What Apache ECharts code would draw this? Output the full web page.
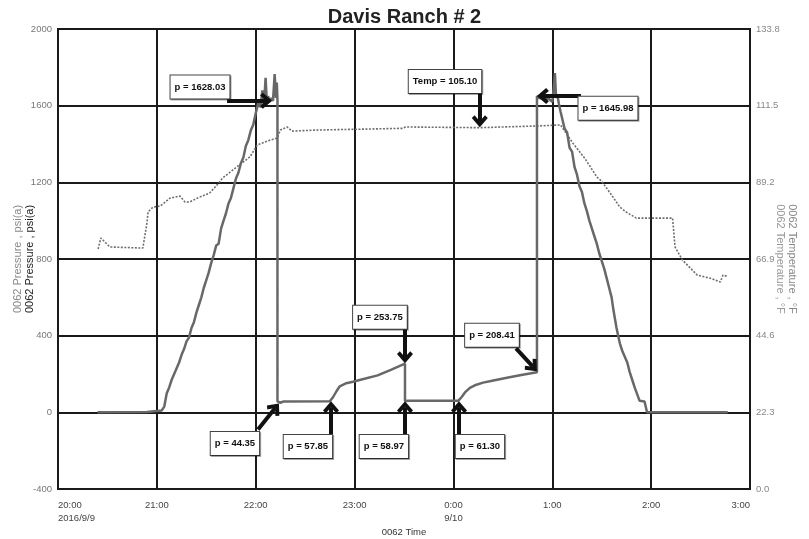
<!DOCTYPE html>
<html><head><meta charset="utf-8">
<style>html,body{margin:0;padding:0;background:#fff}#c{width:809px;height:539px}</style>
<script src="https://cdn.jsdelivr.net/npm/echarts@6.0.0/dist/echarts.min.js"></script>
</head><body><div id="c"></div>
<script>
const chartTitle = "Davis Ranch # 2";
const xAxisTitle = "0062 Time";
const leftAxisTitle = "0062 Pressure , psi(a)";
const rightAxisTitle = "0062 Temperature , °F";
const xTickLabels = ["20:00\n2016/9/9","21:00","22:00","23:00","0:00\n9/10","1:00","2:00","3:00"];
const pressureTickLabels = ["-400","0","400","800","1200","1600","2000"];
const tempTickLabels = ["0.0","22.3","44.6","66.9","89.2","111.5","133.8"];

const pressureTimes = ["20:24","20:54","20:55","21:03","21:04:30","21:06","21:07:30","21:09","21:10:30","21:12","21:13:30","21:15","21:16:30","21:18","21:19:30","21:21","21:22:30","21:24","21:25:30","21:27","21:28:30","21:30","21:31:30","21:33","21:34:30","21:36","21:37:30","21:39","21:40:30","21:42","21:43:30","21:45","21:46:30","21:48","21:49:30","21:51","21:52:30","21:54","21:55:30","21:57","21:58:30","22:00",
  "22:01","22:02","22:03","22:04","22:05","22:06","22:06:48","22:07:30","22:08:30","22:09:30","22:10:30","22:11:30","22:12:18","22:12:48","22:13:12","22:13:12",
  "22:15","22:17","22:45","22:47","22:49","22:51","22:55","22:59","23:06","23:14","23:22","23:30:36","23:30:36",
  "23:33","0:03","0:05","0:07","0:10","0:13","0:18","0:22","0:28","0:34","0:42","0:50:42","0:50:42",
  "0:52","0:58","1:00","1:01","1:01:36","1:02:18",
  "1:03","1:04","1:05","1:06","1:07:30","1:09","1:10:30","1:12","1:13:30","1:15","1:16:30","1:18","1:19:30","1:21","1:22:30","1:24","1:25:30","1:27","1:28:30","1:30","1:31:30","1:33","1:34:30","1:36","1:37","1:38","1:39","1:40","1:41","1:42:30","1:44","1:45:30","1:47","1:48:30","1:50","1:51:30","1:53","1:56","1:57:30","2:46:30"];
const pressureValues = [0,2,10,10,30,100,130,170,200,230,260,300,330,370,390,440,470,520,560,600,650,690,730,780,820,870,880,960,1000,1040,1090,1120,1170,1220,1250,1300,1330,1390,1420,1470,1500,1560,
  1570,1630,1590,1680,1600,1745,1610,1650,1620,1640,1625,1765,1640,1720,1630,57,
  50,57,58,80,110,136,152,160,175,193,222,254,59,
  61,61,80,104,128,141,155,162,173,183,196,209,1650,
  1640,1635,1620,1700,1770,1640,
  1660,1610,1570,1560,1480,1460,1380,1360,1280,1240,1180,1150,1090,1050,1000,960,920,880,830,790,750,700,650,600,540,490,440,400,360,320,290,260,210,170,130,95,60,57,0,0];

const tempTimes = ["20:24:20","20:26","20:31:30","20:50","20:51:30","20:54","20:54:40","20:57:40","21:02","21:08","21:14","21:17","21:20","21:24:30","21:32","21:35","21:38","21:40","21:48","21:56:30","22:01","22:07","22:13","22:15","22:19","22:22","22:37","22:57","23:29","23:31","0:16","0:51","1:05","1:12:30","1:20","1:27","1:30","1:36","1:41","1:45","1:51","2:13","2:14:30","2:19","2:28","2:36","2:42","2:43:36","2:46"];
const tempValues = [69.8,73.0,70.4,70.1,70.1,77.4,80.6,82.0,82.3,84.6,85.2,83.5,83.5,84.6,86.1,87.6,89.3,90.5,93.5,96.6,100.1,101.2,102.1,104.4,105.3,104.1,104.4,104.6,104.9,105.3,105.1,105.6,105.9,100.6,96.0,90.8,89.5,85.5,82.0,80.5,78.8,78.8,70.4,66.6,62.2,61.3,60.2,62.2,61.9];

// annotation callouts: text, box centre (time, psi), arrow tail and head (time, psi)
const calloutTexts = ["p = 1628.03","Temp = 105.10","p = 1645.98","p = 253.75","p = 208.41","p = 44.35","p = 57.85","p = 58.97","p = 61.30"];
const calloutBoxTimes = ["21:26:12","23:54:54","1:33:48","23:15:24","0:23:24","21:47:24","22:31:42","23:17:48","0:16:06"];
const calloutBoxPsi = [1697,1726,1587,496,402,-162,-178,-178,-178];
const arrowTailTimes = ["21:42:36","0:16","1:17:24","23:30:36","0:38","22:01:24","22:45:42","23:30:36","0:03:24"];
const arrowTailPsi = [1626,1703,1650,433,334,-89,-115,-115,-115];
const arrowHeadTimes = ["22:06:18","0:16","0:54:18","23:30:36","0:48:12","22:11:48","22:45:42","23:30:36","0:03:24"];
const arrowHeadPsi = [1626,1519,1650,287,238,22,26,26,26];

function toMin(s){
  const parts = s.split(':').map(Number);
  let h = parts[0]; const m = parts[1]; const sec = parts[2] || 0;
  if (h < 12) h += 24;
  return (h - 20) * 60 + m + sec / 60;
}

const pressureData = pressureTimes.map((t,i)=>[toMin(t), pressureValues[i]]);
const tempData = tempTimes.map((t,i)=>[toMin(t), tempValues[i]]);

const FONT = "'Liberation Sans',Arial,sans-serif";

const markPoints = calloutTexts.map((txt,i)=>({
  coord:[toMin(calloutBoxTimes[i]), calloutBoxPsi[i]],
  symbol:'rect', symbolSize:1, itemStyle:{color:'rgba(0,0,0,0)'},
  label:{show:true, position:'inside', formatter:txt, color:'#111', fontFamily:FONT, fontWeight:'bold', fontSize:9.5,
    backgroundColor:'#fff', borderColor:'#444', borderWidth:1, padding:[7,4,6,4],
    shadowColor:'rgba(0,0,0,0.35)', shadowOffsetX:1, shadowOffsetY:1, shadowBlur:0}
}));
const chevron = 'path://M10,0 L20,10 L16.5,13 L10,6.5 L3.5,13 L0,10 Z';
const markLines = calloutTexts.map((txt,i)=>[
  {coord:[toMin(arrowTailTimes[i]), arrowTailPsi[i]], symbol:'none'},
  {coord:[toMin(arrowHeadTimes[i]), arrowHeadPsi[i]], symbol:chevron, symbolSize:[16,12]}
]);

const chart = echarts.init(document.getElementById('c'), null, {renderer:'canvas'});
chart.setOption({
  animation:false,
  backgroundColor:'#fff',
  title:{text:chartTitle, left:'center', top:2, textStyle:{fontFamily:FONT, fontWeight:'bold', fontSize:20, color:'#222'}},
  grid:{left:58, right:59, top:29, bottom:50, show:true, borderColor:'#1a1a1a', borderWidth:2, outerBoundsMode:'none'},
  xAxis:{
    type:'value', min:0, max:420, interval:60,
    name:xAxisTitle, nameLocation:'middle', nameGap:38, nameMoveOverlap:false,
    nameTextStyle:{fontFamily:FONT, fontSize:9.5, color:'#333'},
    axisLine:{show:true, lineStyle:{color:'#1a1a1a', width:2}},
    axisTick:{show:false},
    splitLine:{show:true, lineStyle:{color:'#1a1a1a', width:2}},
    axisLabel:{fontFamily:FONT, fontSize:9.5, color:'#444', margin:10, lineHeight:13,
      alignMinLabel:'left', alignMaxLabel:'right',
      formatter:(v)=>xTickLabels[Math.round(v/60)]}
  },
  yAxis:[{
    type:'value', min:-400, max:2000, interval:400, position:'left',
    name:'{a|'+leftAxisTitle+'}\n{b|'+leftAxisTitle+'}', nameLocation:'middle', nameRotate:90, nameGap:22, nameMoveOverlap:false,
    nameTextStyle:{fontFamily:FONT, fontSize:11, rich:{a:{color:'#888', fontFamily:FONT, fontSize:11, lineHeight:12}, b:{color:'#222', fontFamily:FONT, fontSize:11, lineHeight:12}}},
    axisLine:{show:true, lineStyle:{color:'#1a1a1a', width:2}},
    axisTick:{show:false},
    splitLine:{show:true, lineStyle:{color:'#1a1a1a', width:2}},
    axisLabel:{fontFamily:FONT, fontSize:9.5, color:'#777', margin:6,
      formatter:(v)=>pressureTickLabels[Math.round((v+400)/400)]}
  },{
    type:'value', min:0, max:133.8, interval:22.3, position:'right',
    name:'{a|'+rightAxisTitle+'}\n{b|'+rightAxisTitle+'}', nameLocation:'middle', nameRotate:-90, nameGap:24, nameMoveOverlap:false,
    nameTextStyle:{fontFamily:FONT, fontSize:11, rich:{a:{color:'#888', fontFamily:FONT, fontSize:11, lineHeight:12}, b:{color:'#999', fontFamily:FONT, fontSize:11, lineHeight:12}}},
    axisLine:{show:true, lineStyle:{color:'#1a1a1a', width:2}},
    axisTick:{show:false},
    splitLine:{show:false},
    axisLabel:{fontFamily:FONT, fontSize:9.5, color:'#888', margin:6,
      formatter:(v)=>tempTickLabels[Math.round(v/22.3)]}
  }],
  series:[{
    type:'line', name:'temp', yAxisIndex:1, data:tempData, showSymbol:false, z:2,
    lineStyle:{color:'#6e6e6e', width:1.6, type:[2,1.5]}
  },{
    type:'line', name:'pressure', yAxisIndex:0, data:pressureData, showSymbol:false, z:3,
    lineStyle:{color:'#686868', width:2.5},
    markPoint:{data:markPoints, z:10, silent:true},
    markLine:{data:markLines, silent:true, z:9, symbol:['none',chevron],
      lineStyle:{color:'#111', width:4, type:'solid'}, label:{show:false}}
  }]
});
</script></body></html>
